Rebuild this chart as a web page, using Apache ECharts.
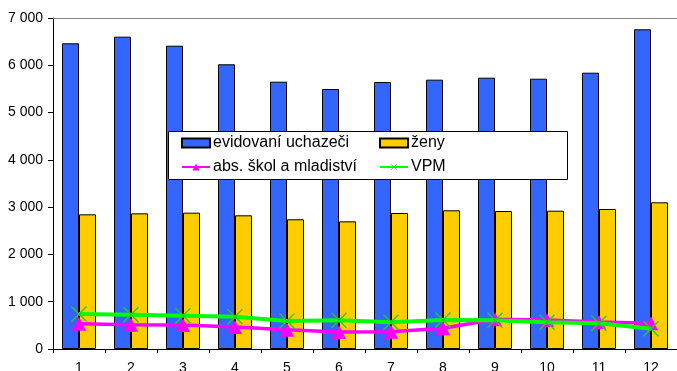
<!DOCTYPE html>
<html>
<head>
<meta charset="utf-8">
<script src="https://cdn.jsdelivr.net/npm/echarts@6/dist/echarts.min.js"></script>
<style>html,body{margin:0;padding:0;background:#fff}#c{width:677px;height:371px}</style>
</head>
<body>
<div id="c"></div>
<script>
var categories = ['1','2','3','4','5','6','7','8','9','10','11','12'];
var evidovani = [6465, 6605, 6414, 6021, 5653, 5498, 5646, 5696, 5738, 5716, 5843, 6761];
var zeny = [2848, 2869, 2883, 2827, 2743, 2700, 2876, 2933, 2918, 2925, 2961, 3102];
var absolventi = [536, 514, 507, 465, 409, 360, 366, 437, 628, 613, 571, 545];
var vpm = [740, 726, 705, 684, 592, 606, 564, 613, 606, 564, 543, 430];
var yTicks = {min: 0, max: 7000, interval: 1000};

var FONT = '"Liberation Sans", Arial, sans-serif';
var xPath = 'path://M0,6L6,0L100,94L94,100Z M94,0L100,6L6,100L0,94Z';
var chart = echarts.init(document.getElementById('c'));
chart.setOption({
  animation: false,
  backgroundColor: '#fff',
  textStyle: {fontFamily: FONT},
  grid: {left: 53, right: 0, top: 18, bottom: 22, containLabel: false, outerBoundsMode: 'none'},
  graphic: [{
    type: 'rect', left: 168, top: 131, z: 3,
    shape: {width: 399, height: 48},
    style: {fill: '#fff', stroke: '#000', lineWidth: 1}
  }],
  legend: [{
    data: [{name: 'evidovaní uchazeči', icon: 'rect'}, {name: 'abs. škol a mladiství'}],
    orient: 'vertical', left: 181, top: 135, padding: 0, itemGap: 8,
    itemWidth: 28, itemHeight: 9, z: 5,
    textStyle: {fontFamily: FONT, fontSize: 16, color: '#000', padding: [0,0,0,-2]}
  }, {
    data: [{name: 'ženy', icon: 'rect'}, {name: 'VPM'}],
    orient: 'vertical', left: 379, top: 135, padding: 0, itemGap: 8,
    itemWidth: 28, itemHeight: 9, z: 5,
    textStyle: {fontFamily: FONT, fontSize: 16, color: '#000', padding: [0,0,0,-2]}
  }],
  xAxis: [{
    type: 'category', data: categories, position: 'bottom',
    axisLine: {lineStyle: {color: '#000', width: 1}},
    axisTick: {show: true, length: 4, lineStyle: {color: '#000'}},
    axisLabel: {fontFamily: FONT, fontSize: 14, color: '#000', margin: 12},
    splitLine: {show: false}
  }, {
    type: 'category', data: categories, position: 'top',
    axisLine: {show: true, lineStyle: {color: '#808080', width: 1}},
    axisTick: {show: false}, axisLabel: {show: false}, splitLine: {show: false}
  }],
  yAxis: {
    type: 'value', min: yTicks.min, max: yTicks.max, interval: yTicks.interval,
    axisLine: {show: true, lineStyle: {color: '#000', width: 1}},
    axisTick: {show: true, length: 5, lineStyle: {color: '#000'}},
    splitLine: {show: false},
    axisLabel: {
      fontFamily: FONT, fontSize: 14, color: '#000', margin: 10,
      formatter: function (v) { return String(v).replace(/\B(?=(\d{3})+(?!\d))/g, ' '); }
    }
  },
  series: [{
    name: 'evidovaní uchazeči', type: 'bar', data: evidovani,
    barWidth: 17, barGap: '0%',
    itemStyle: {color: '#3366ff', borderColor: '#000', borderWidth: 1}
  }, {
    name: 'ženy', type: 'bar', data: zeny,
    barWidth: 17, barGap: '0%',
    itemStyle: {color: '#ffcc00', borderColor: '#000', borderWidth: 1}
  }, {
    name: 'abs. škol a mladiství', type: 'line', data: absolventi,
    symbol: 'triangle', symbolSize: [14, 14],
    lineStyle: {color: '#ff00ff', width: 3.5},
    itemStyle: {color: '#ff00ff'}, z: 6
  }, {
    name: 'VPM', type: 'line', data: vpm,
    symbol: xPath, symbolSize: [16, 16],
    lineStyle: {color: '#00ff00', width: 4},
    itemStyle: {color: '#22cc22'}, z: 7
  }]
});
</script>
</body>
</html>
